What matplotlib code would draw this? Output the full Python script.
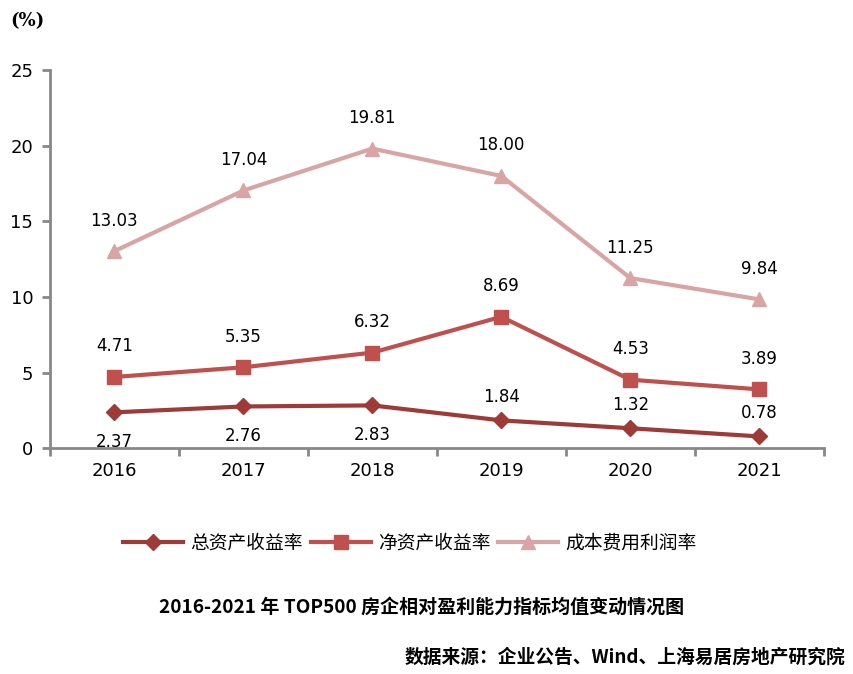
import matplotlib
matplotlib.use("Agg")
import matplotlib.pyplot as plt

plt.rcParams['font.family'] = ['DejaVu Sans', 'Noto Sans CJK SC']

years = ["2016", "2017", "2018", "2019", "2020", "2021"]
roa = [2.37, 2.76, 2.83, 1.84, 1.32, 0.78]
roe = [4.71, 5.35, 6.32, 8.69, 4.53, 3.89]
cost_margin = [13.03, 17.04, 19.81, 18.00, 11.25, 9.84]

names = ["总资产收益率", "净资产收益率", "成本费用利润率"]
colors = ["#9E3A38", "#C0504D", "#D9A5A4"]
cjk = ['Noto Sans CJK SC', 'DejaVu Sans']

fig = plt.figure(figsize=(8.54, 6.74), dpi=100)
ax = fig.add_axes([0.0585, 0.335, 0.906, 0.561])
x = list(range(len(years)))

ax.plot(x, roa, color=colors[0], lw=3, marker="D", ms=8, label=names[0], zorder=3)
ax.plot(x, roe, color=colors[1], lw=3, marker="s", ms=10, label=names[1], zorder=3)
ax.plot(x, cost_margin, color=colors[2], lw=3, marker="^", ms=10, label=names[2], zorder=3)

for i, v in enumerate(roa):
    if i < 3:
        ax.annotate(f"{v:.2f}", (i, v), xytext=(0, -21), textcoords="offset points",
                    ha="center", va="center", fontsize=12)
    else:
        ax.annotate(f"{v:.2f}", (i, v), xytext=(0, 17), textcoords="offset points",
                    ha="center", va="center", fontsize=12)
for i, v in enumerate(roe):
    ax.annotate(f"{v:.2f}", (i, v), xytext=(0, 22), textcoords="offset points",
                ha="center", va="center", fontsize=12)
for i, v in enumerate(cost_margin):
    ax.annotate(f"{v:.2f}", (i, v), xytext=(0, 22), textcoords="offset points",
                ha="center", va="center", fontsize=12)

ax.set_xlim(-0.5, 5.5)
ax.set_ylim(0, 25)
ax.set_yticks([0, 5, 10, 15, 20, 25])
ax.set_xticks(x)
ax.set_xticklabels(years)
ax.set_xticks([i - 0.5 for i in range(7)], minor=True)
ax.tick_params(axis="x", which="major", length=0, pad=10, labelsize=13)
ax.tick_params(axis="x", which="minor", length=6, width=2, color="#888888")
ax.tick_params(axis="y", length=6, width=2, color="#888888", labelsize=13, pad=6)
for s in ["top", "right"]:
    ax.spines[s].set_visible(False)
for s in ["left", "bottom"]:
    ax.spines[s].set_color("#888888")
    ax.spines[s].set_linewidth(2)

fig.text(0.012, 0.962, "(%)", fontsize=13, fontweight="bold", family="DejaVu Serif")

leg = fig.legend(loc="center", bbox_to_anchor=(0.48, 0.194), ncol=3, frameon=False,
                 prop={"family": cjk, "size": 13.5}, handlelength=3.2,
                 handletextpad=0.4, columnspacing=0.4)

fig.text(0.494, 0.099, "2016-2021 年 TOP500 房企相对盈利能力指标均值变动情况图",
         ha="center", va="center", fontsize=13.7, fontweight="bold", family=cjk)
fig.text(0.99, 0.025, "数据来源：企业公告、Wind、上海易居房地产研究院",
         ha="right", va="center", fontsize=13.5, fontweight="bold", family=cjk)

fig.savefig("out.png", dpi=100)
